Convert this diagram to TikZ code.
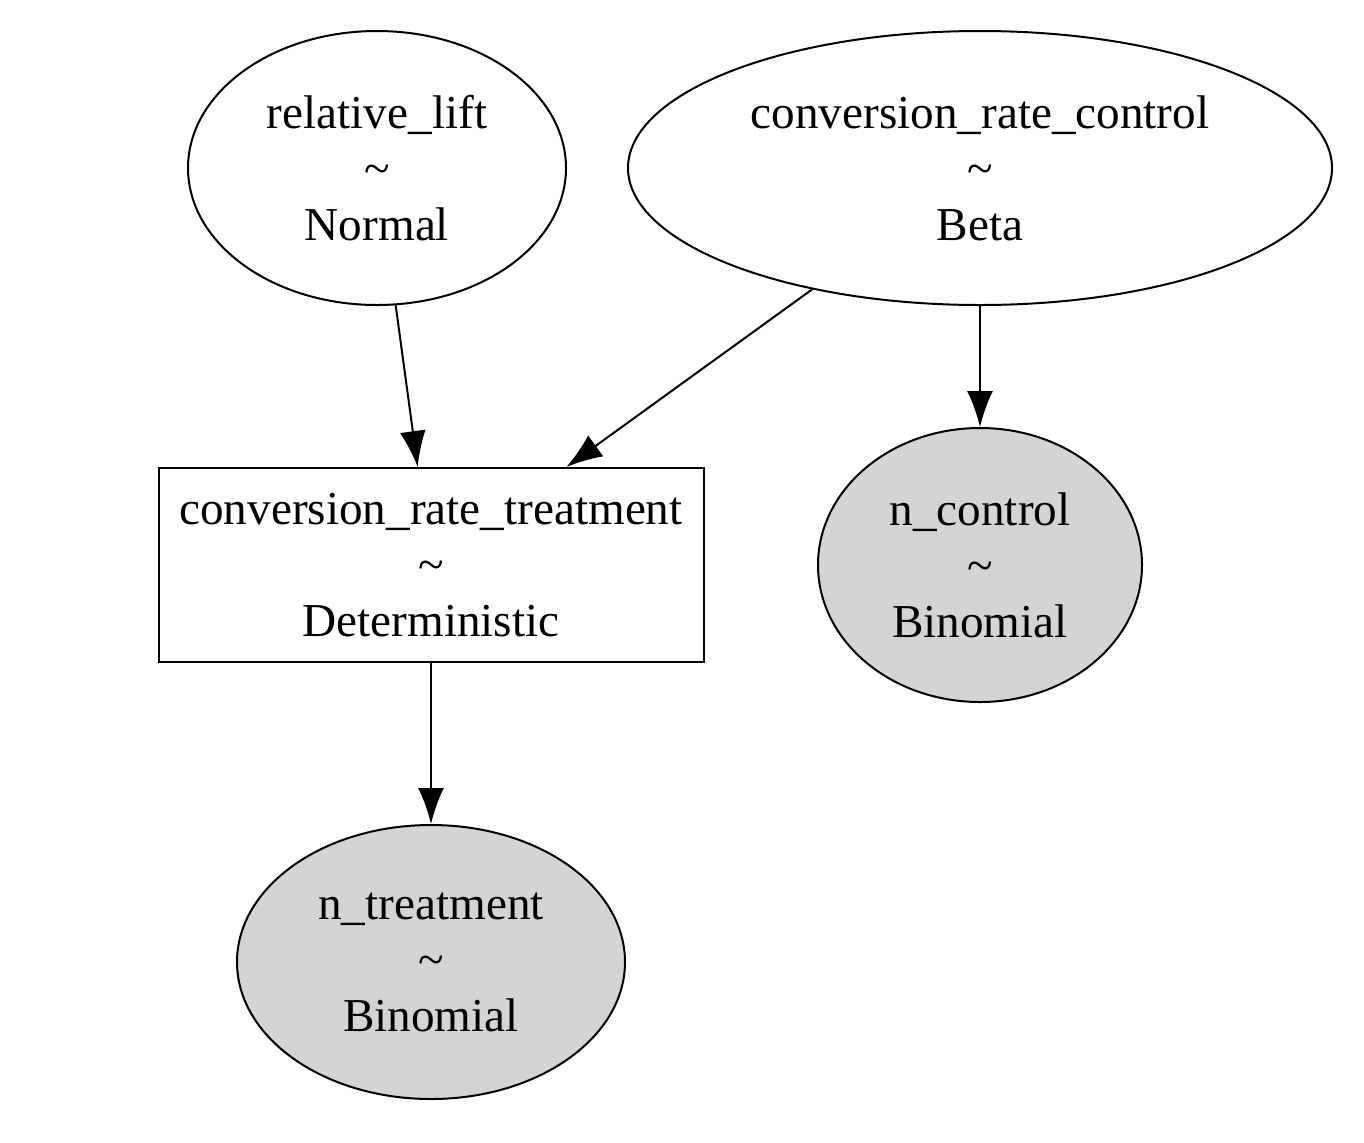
\documentclass[tikz,border=0pt]{standalone}
\usepackage{fontspec}
\setmainfont{Liberation Serif}
\usetikzlibrary{shapes,arrows.meta,positioning}

\begin{document}
\begin{tikzpicture}[x=0.5pt, y=-0.5pt, font=\fontsize{23.6}{28}\selectfont]
  \tikzstyle{latent}=[ellipse, draw=black, line width=1pt, fill=white, align=center, inner sep=0pt]
  \tikzstyle{observed}=[ellipse, draw=black, line width=1pt, fill=black!17, align=center, inner sep=0pt]
  \tikzstyle{deterministic}=[rectangle, draw=black, line width=1pt, fill=white, align=center, inner sep=0pt]
  \tikzstyle{line} = [draw, line width=1pt, -{Latex[length=18pt, width=13pt]}]

  \useasboundingbox (0,0) rectangle (1364,1142);

  % top row
  \node [latent, minimum width=189pt, minimum height=137pt] (relative_lift) at (377,168) {
    relative\_lift\\\textasciitilde\\Normal
  };
  \node [latent, minimum width=352pt, minimum height=137pt] (conversion_rate_control) at (980,168) {
    conversion\_rate\_control\\\textasciitilde\\Beta
  };

  % middle row
  \node [deterministic, minimum width=272.5pt, minimum height=97pt] (conversion_rate_treatment) at (431,565) {
    conversion\_rate\_treatment\\\textasciitilde\\Deterministic
  };
  \node [observed, minimum width=162pt, minimum height=137pt] (n_control) at (980,565) {
    n\_control\\\textasciitilde\\Binomial
  };

  % bottom row
  \node [observed, minimum width=194pt, minimum height=137pt] (n_treatment) at (431,962) {
    n\_treatment\\\textasciitilde\\Binomial
  };

  \draw [line] (relative_lift) -- (conversion_rate_treatment);
  \draw [line] (conversion_rate_control) -- (conversion_rate_treatment);
  \draw [line] (conversion_rate_control) -- (n_control);
  \draw [line] (conversion_rate_treatment) -- (n_treatment);
\end{tikzpicture}
\end{document}
